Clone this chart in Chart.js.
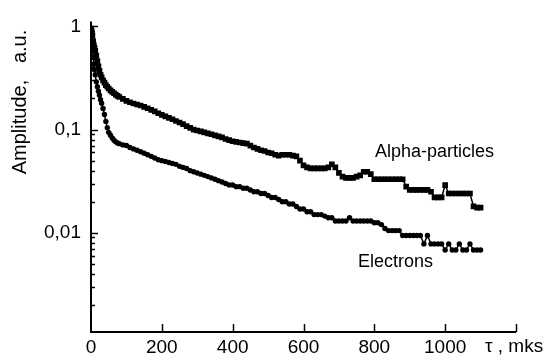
<!DOCTYPE html>
<html><head><meta charset="utf-8">
<script src="https://cdn.jsdelivr.net/npm/chart.js@4/dist/chart.umd.min.js"></script>
<style>html,body{margin:0;padding:0;background:#fff;}#c{display:block;}</style>
</head><body>
<canvas id="c" width="553" height="356"></canvas>
<script>
const times = [0,2,4,6,8,10,12,15,18,21,24,27,30,34,38,42,46,50,55,60,65,70,75,80,90,100,
110,120,130,140,150,160,170,180,190,200,
210,220,230,240,250,260,270,280,290,300,
310,320,330,340,350,360,370,380,390,400,
410,420,430,440,450,460,470,480,490,500,
510,520,530,540,550,560,570,580,590,600,
610,620,630,640,650,660,670,680,690,700,
710,720,730,740,750,760,770,780,790,800,
810,820,830,840,850,860,870,880,890,900,
910,920,930,940,950,960,970,980,990,1000,
1010,1020,1030,1040,1050,1060,1070,1080,1090,1100];

const alphaValues = [0.95,0.9,0.82,0.72,0.66,0.62,0.58,0.52,0.46,0.41,0.37,0.34,0.32,0.30,0.285,0.27,0.26,0.25,0.24,0.232,0.225,0.218,0.212,0.207,0.198,0.19,
0.184,0.179,0.175,0.171,0.166,0.161,0.155,0.15,0.144,0.139,
0.134,0.13,0.126,0.121,0.117,0.113,0.108,0.104,0.1,0.098,
0.096,0.094,0.092,0.09,0.088,0.086,0.084,0.081,0.079,0.077,
0.076,0.075,0.074,0.073,0.07,0.067,0.065,0.063,0.062,0.06,
0.059,0.057,0.056,0.057,0.057,0.057,0.056,0.055,0.05,0.045,
0.043,0.042,0.042,0.042,0.042,0.042,0.043,0.046,0.043,0.038,
0.035,0.034,0.034,0.034,0.035,0.036,0.039,0.039,0.037,0.033,
0.033,0.033,0.033,0.033,0.033,0.033,0.033,0.033,0.028,0.026,
0.026,0.026,0.026,0.026,0.026,0.025,0.022,0.022,0.022,0.029,
0.024,0.024,0.024,0.024,0.024,0.024,0.024,0.018,0.0175,0.0175];

const electronValues = [0.85,0.75,0.62,0.5,0.43,0.38,0.34,0.29,0.26,0.235,0.215,0.195,0.18,0.16,0.14,0.12,0.104,0.094,0.088,0.083,0.079,0.076,0.074,0.073,0.071,0.07,
0.067,0.065,0.063,0.061,0.059,0.057,0.055,0.053,0.051,0.05,
0.049,0.048,0.047,0.046,0.044,0.043,0.042,0.04,0.039,0.038,
0.037,0.036,0.035,0.034,0.033,0.032,0.031,0.03,0.029,0.029,
0.028,0.028,0.027,0.027,0.026,0.025,0.025,0.024,0.024,0.023,
0.022,0.022,0.021,0.02,0.02,0.019,0.019,0.018,0.017,0.017,
0.016,0.016,0.015,0.015,0.015,0.0145,0.014,0.014,0.013,0.013,
0.013,0.013,0.014,0.013,0.013,0.013,0.013,0.013,0.013,0.0125,
0.0125,0.012,0.011,0.0105,0.0105,0.0105,0.0105,0.0094,0.0094,0.0094,
0.0094,0.0094,0.0094,0.0078,0.0094,0.0078,0.0078,0.0078,0.0078,0.0068,
0.0078,0.0068,0.0068,0.0078,0.0068,0.0068,0.0078,0.0068,0.0068,0.0068];

const xTickValues = [0,200,400,600,800,1000];
const xTickMarks = [200,400,600,800,1000,1200];
const yTickValues = [1,0.1,0.01];
const yTickLabels = ['1','0,1','0,01'];
const seriesNames = ['Alpha-particles','Electrons'];
const xTitle = 'τ , mks';
const yTitle = 'Amplitude,   a.u.';

const FONT = '"Liberation Sans", Arial, sans-serif';

const decor = {
  id:'decor',
  afterDraw(chart){
    const ctx = chart.ctx, a = chart.chartArea;
    const xs = chart.scales.x, ys = chart.scales.y;
    ctx.save();
    ctx.strokeStyle = '#000';
    ctx.lineWidth = 2;
    ctx.beginPath();
    ctx.moveTo(a.left, a.top); ctx.lineTo(a.left, a.bottom); ctx.lineTo(a.right, a.bottom);
    ctx.stroke();
    ctx.lineWidth = 1.5;
    ctx.beginPath();
    for (let e = 0; e >= -3; e--) {
      for (let m = 1; m <= 9; m++) {
        const v = m * Math.pow(10, e);
        if (v < ys.min || v > ys.max) continue;
        const py = Math.round(ys.getPixelForValue(v)) + 0.5;
        const len = m === 1 ? 7 : 4;
        ctx.moveTo(a.left, py); ctx.lineTo(a.left + len, py);
      }
    }
    xTickMarks.forEach(v => {
      const px = Math.round(xs.getPixelForValue(v)) + 0.5;
      ctx.moveTo(px, a.bottom); ctx.lineTo(px, a.bottom - 8);
    });
    ctx.stroke();
    ctx.fillStyle = '#000';
    ctx.font = '19px ' + FONT;
    ctx.textBaseline = 'middle';
    ctx.textAlign = 'left';
    ctx.fillText(xTitle, 485, 347);
    ctx.font = '18px ' + FONT;
    ctx.fillText(seriesNames[0], 375, 152);
    ctx.fillText(seriesNames[1], 358, 262);
    ctx.save();
    ctx.translate(20, 102);
    ctx.rotate(-Math.PI/2);
    ctx.textAlign = 'center';
    ctx.font = '20px ' + FONT;
    ctx.fillText(yTitle, 0, 0);
    ctx.restore();
    ctx.restore();
  }
};

new Chart(document.getElementById('c'), {
  type:'line',
  data:{
    datasets:[
      {label:seriesNames[0], data: times.map((t,i)=>({x:t,y:alphaValues[i]})),
       borderColor:'#000', backgroundColor:'#000', borderWidth:1.5,
       pointStyle:'rect', pointRadius:4, pointBorderWidth:0, tension:0},
      {label:seriesNames[1], data: times.map((t,i)=>({x:t,y:electronValues[i]})),
       borderColor:'#000', backgroundColor:'#000', borderWidth:1.5,
       pointStyle:'circle', pointRadius:2.7, pointBorderWidth:0, tension:0}
    ]
  },
  options:{
    responsive:false, animation:false, devicePixelRatio:1,
    layout:{padding:{top:19,right:37,left:0,bottom:0}},
    plugins:{legend:{display:false}, tooltip:{enabled:false}},
    scales:{
      x:{type:'linear', min:0, max:1200,
         grid:{display:false, drawTicks:false}, border:{display:false},
         afterBuildTicks(s){ s.ticks = xTickValues.map(v=>({value:v})); },
         afterFit(s){ s.height = 24; },
         ticks:{color:'#000', font:{size:19, family:FONT}, padding:4, maxRotation:0, autoSkip:false,
                callback:(v)=>String(v)}},
      y:{type:'logarithmic', min:0.001093, max:1.117,
         grid:{display:false, drawTicks:false}, border:{display:false},
         afterBuildTicks(s){ s.ticks = yTickValues.map(v=>({value:v})); },
         afterFit(s){ s.width = 91; },
         ticks:{color:'#000', font:{size:19, family:FONT}, padding:10, autoSkip:false,
                callback:(v)=>{ const i = yTickValues.findIndex(t=>Math.abs(t-v)/t<1e-6); return i>=0 ? yTickLabels[i] : ''; }}}
    }
  },
  plugins:[decor]
});
</script>
</body></html>
